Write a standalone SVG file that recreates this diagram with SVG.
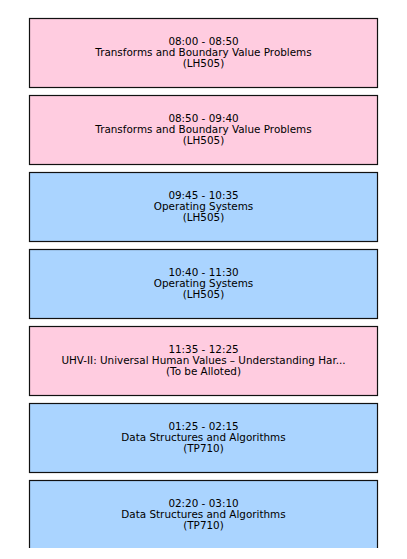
<svg xmlns="http://www.w3.org/2000/svg" width="407" height="559" viewBox="0 0 407 559">
<defs>
<style>
.box{stroke:#111;stroke-width:1.2}
.pink{fill:#ffcce0}
.blue{fill:#aad4ff}
text{font-family:"DejaVu Sans",sans-serif;font-size:10.4px;fill:#000;text-anchor:middle}
</style>
<clipPath id="clip"><rect x="0" y="0" width="407" height="548"/></clipPath>
</defs>
<rect width="407" height="559" fill="#fff"/>
<g id="nodes" clip-path="url(#clip)">
<g id="n1"><rect class="box pink" x="29.5" y="18.5" width="348" height="69"/><text x="203.5" y="45">08:00 - 08:50</text><text x="203.5" y="56">Transforms and Boundary Value Problems</text><text x="203.5" y="67">(LH505)</text></g>
<g id="n2"><rect class="box pink" x="29.5" y="95.5" width="348" height="69"/><text x="203.5" y="122">08:50 - 09:40</text><text x="203.5" y="133">Transforms and Boundary Value Problems</text><text x="203.5" y="144">(LH505)</text></g>
<g id="n3"><rect class="box blue" x="29.5" y="172.5" width="348" height="69"/><text x="203.5" y="199">09:45 - 10:35</text><text x="203.5" y="210">Operating Systems</text><text x="203.5" y="221">(LH505)</text></g>
<g id="n4"><rect class="box blue" x="29.5" y="249.5" width="348" height="69"/><text x="203.5" y="276">10:40 - 11:30</text><text x="203.5" y="287">Operating Systems</text><text x="203.5" y="298">(LH505)</text></g>
<g id="n5"><rect class="box pink" x="29.5" y="326.5" width="348" height="69"/><text x="203.5" y="353">11:35 - 12:25</text><text x="203.5" y="364">UHV-II: Universal Human Values – Understanding Har...</text><text x="203.5" y="375">(To be Alloted)</text></g>
<g id="n6"><rect class="box blue" x="29.5" y="403.5" width="348" height="69"/><text x="203.5" y="430">01:25 - 02:15</text><text x="203.5" y="441">Data Structures and Algorithms</text><text x="203.5" y="452">(TP710)</text></g>
<g id="n7"><rect class="box blue" x="29.5" y="480.5" width="348" height="69"/><text x="203.5" y="507">02:20 - 03:10</text><text x="203.5" y="518">Data Structures and Algorithms</text><text x="203.5" y="529">(TP710)</text></g>
</g>
<g id="connectors"/>
</svg>
